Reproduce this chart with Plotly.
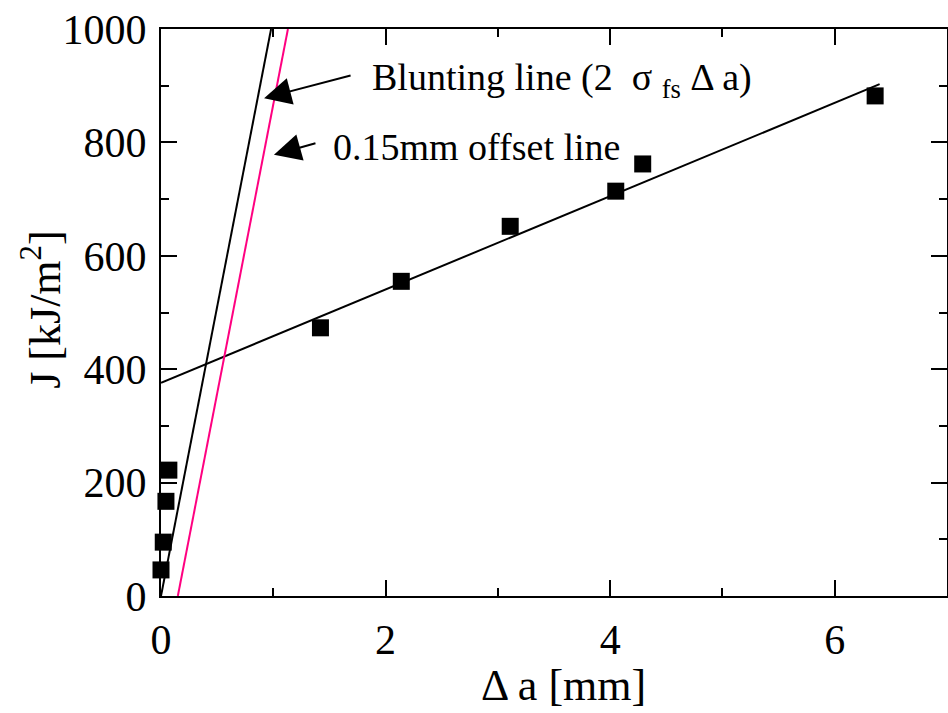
import numpy as np
import plotly.graph_objects as go

# Data
crack_ext = [0.00, 0.02, 0.044, 0.07, 1.42, 2.14, 3.11, 4.05, 4.29, 6.36]   # Δa [mm]
j_values = [46, 95, 167, 222, 473, 555, 652, 714, 762, 882]               # J [kJ/m2]

# Regression (R-curve) line parameters
fit_intercept = 376.0
fit_slope = 82.3
fit_x_end = 6.40

# Blunting line J = 2*sigma_fs*Δa
blunt_slope = 1020.0
offset_mm = 0.15

x_range = [0, 7]
y_range = [0, 1000]
x_ticks = [0, 2, 4, 6]
y_ticks = [0, 200, 400, 600, 800, 1000]

FONT = "Liberation Serif, Times New Roman, serif"

fig = go.Figure()

# regression line
fx = np.array([0.0, fit_x_end])
fig.add_trace(go.Scatter(x=fx, y=fit_intercept + fit_slope * fx, mode="lines",
                         line=dict(color="black", width=2), showlegend=False))

# blunting line (through origin up to top of axis)
bx = np.array([0.0, y_range[1] / blunt_slope])
fig.add_trace(go.Scatter(x=bx, y=blunt_slope * bx, mode="lines",
                         line=dict(color="black", width=2), showlegend=False))

# 0.15 mm offset line
ox = np.array([offset_mm, offset_mm + y_range[1] / blunt_slope])
fig.add_trace(go.Scatter(x=ox, y=blunt_slope * (ox - offset_mm), mode="lines",
                         line=dict(color="#ff0080", width=2), showlegend=False))

# data points
fig.add_trace(go.Scatter(x=crack_ext, y=j_values, mode="markers",
                         marker=dict(symbol="square", size=17, color="black",
                                     line=dict(width=0)),
                         cliponaxis=False, showlegend=False))

axis_common = dict(
    showline=True, linecolor="black", linewidth=2, mirror="allticks",
    ticks="inside", ticklen=16, tickwidth=2, tickcolor="black",
    showgrid=False, zeroline=False,
    tickfont=dict(family=FONT, size=42, color="black"),
)

fig.update_xaxes(range=x_range, tickvals=x_ticks, ticklabelstandoff=6,
                 minor=dict(dtick=1, ticks="inside", ticklen=8, tickwidth=2, tickcolor="black"),
                 **axis_common)
fig.update_yaxes(range=y_range, tickvals=y_ticks, ticklabelstandoff=4,
                 minor=dict(dtick=100, ticks="inside", ticklen=8, tickwidth=2, tickcolor="black"),
                 **axis_common)

# axis titles
fig.add_annotation(x=0.512, y=-0.157, xref="paper", yref="paper", xanchor="center", yanchor="middle",
                   text="Δ a [mm]", showarrow=False, borderpad=0,
                   font=dict(family=FONT, size=44, color="black"))
fig.add_annotation(x=-0.152, y=0.504, xref="paper", yref="paper", xanchor="center", yanchor="middle",
                   text="J [kJ/m<sup>2</sup>]", textangle=-90, showarrow=False, borderpad=0,
                   font=dict(family=FONT, size=44, color="black"))

# arrows
fig.add_annotation(x=0.918, y=878, xref="x", yref="y", text="", showarrow=True,
                   ax=88, ay=-23, arrowhead=2, arrowsize=2.7, arrowwidth=2, arrowcolor="black")
fig.add_annotation(x=1.006, y=778, xref="x", yref="y", text="", showarrow=True,
                   ax=43, ay=-12, arrowhead=2, arrowsize=2.7, arrowwidth=2, arrowcolor="black")

# labels
fig.add_annotation(x=1.862, y=910, xref="x", yref="y", xanchor="left", yanchor="middle",
                   text="Blunting line (2  σ <sub>fs</sub> Δ a)", showarrow=False,
                   font=dict(family=FONT, size=38, color="black"))
fig.add_annotation(x=1.518, y=792, xref="x", yref="y", xanchor="left", yanchor="middle",
                   text="0.15mm offset line", showarrow=False,
                   font=dict(family=FONT, size=38, color="black"))

fig.update_layout(width=948, height=713,
                  margin=dict(l=161, r=1, t=29, b=117, autoexpand=False),
                  paper_bgcolor="white", plot_bgcolor="white",
                  font=dict(family=FONT, color="black"))

fig.write_html("out.html")
